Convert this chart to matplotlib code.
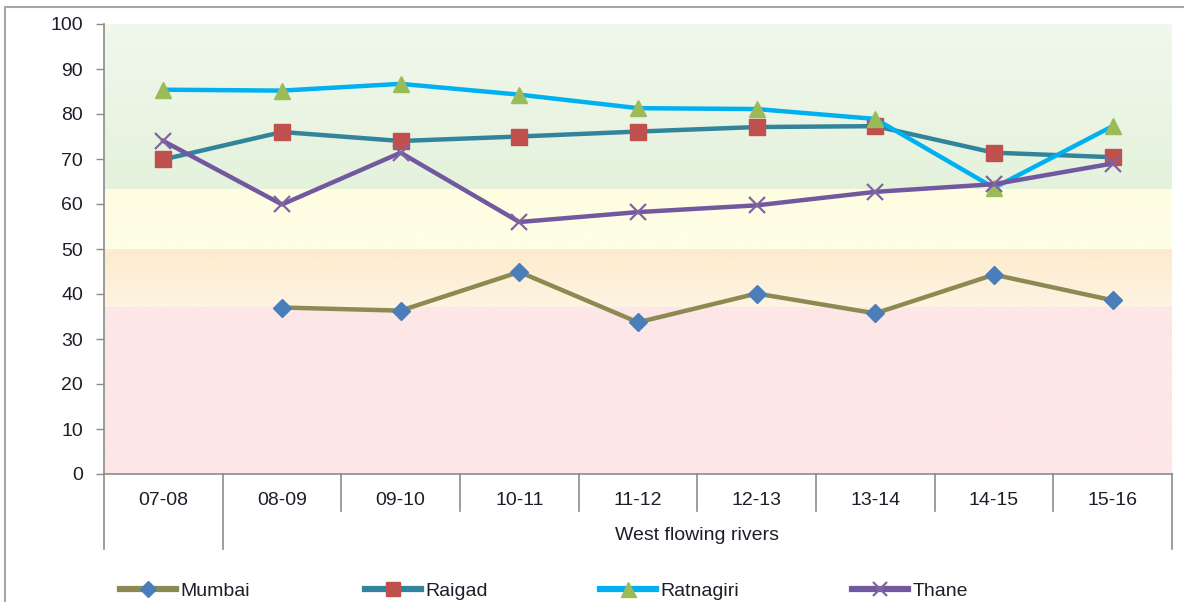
import numpy as np
import matplotlib
matplotlib.use("Agg")
import matplotlib.pyplot as plt
from matplotlib.patches import Rectangle
from matplotlib.colors import LinearSegmentedColormap, to_rgb
from matplotlib.transforms import blended_transform_factory

plt.rcParams['font.family'] = ['Liberation Sans', 'DejaVu Sans']

# ---- data ----
years = ["07-08", "08-09", "09-10", "10-11", "11-12", "12-13", "13-14", "14-15", "15-16"]
group_label = "West flowing rivers"
mumbai = [np.nan, 37.0, 36.3, 44.9, 33.7, 40.1, 35.7, 44.3, 38.6]
raigad = [69.9, 76.0, 74.0, 75.0, 76.1, 77.1, 77.3, 71.4, 70.4]
ratnagiri = [85.4, 85.2, 86.7, 84.3, 81.3, 81.1, 78.9, 63.6, 77.3]
thane = [74.0, 59.9, 71.4, 56.0, 58.2, 59.7, 62.7, 64.4, 69.0]

# quality bands: (low, high, colour at bottom, colour at top)
bands = [
    (0, 37, "#fde6e6", "#fde6e6"),
    (37, 50, "#fdf4e2", "#fdebcc"),
    (50, 63.3, "#fefee6", "#fefde2"),
    (63.3, 100, "#e4f2dc", "#f1f8ec"),
]

W, H, DPI = 1184, 602, 100
TXT = "#1e1e2a"
FS = 14
fig = plt.figure(figsize=(W / DPI, H / DPI), dpi=DPI)
fig.patch.set_facecolor("white")

# outer frame
fig.patches.append(Rectangle((5 / W, -0.05), 1.1, 1 - 7 / H + 0.05, transform=fig.transFigure,
                             fill=False, edgecolor="#a6a6a6", linewidth=1.5, zorder=0))

ax = fig.add_axes([104 / W, 1 - 474 / H, (1172 - 104) / W, 450 / H])
x = np.arange(len(years))
ax.set_xlim(-0.5, len(years) - 0.5)
ax.set_ylim(0, 100)

# gradient background bands
for lo, hi, cb, ct in bands:
    cmap = LinearSegmentedColormap.from_list("b", [to_rgb(cb), to_rgb(ct)])
    grad = np.linspace(0, 1, 64).reshape(-1, 1)
    ax.imshow(grad, cmap=cmap, aspect="auto", origin="lower",
              extent=(-0.5, len(years) - 0.5, lo, hi), zorder=0, interpolation="bilinear")

lw = 3.2
ax.plot(x, mumbai, color="#8c8a52", lw=lw, marker="D", ms=9, mfc="#4a7ebb", mec="#4a7ebb",
        label="Mumbai", zorder=3)
ax.plot(x, raigad, color="#31849b", lw=lw, marker="s", ms=11, mfc="#c0504d", mec="#c0504d",
        label="Raigad", zorder=3)
ax.plot(x, ratnagiri, color="#00b0f0", lw=lw, marker="^", ms=12, mfc="#9bbb59", mec="#9bbb59",
        label="Ratnagiri", zorder=3)
ax.plot(x, thane, color="#71589f", lw=lw, marker="x", ms=11, mew=1.6, mfc="#71589f", mec="#8064a2",
        label="Thane", zorder=3)

# axes styling
for s in ["top", "right"]:
    ax.spines[s].set_visible(False)
for s in ["left", "bottom"]:
    ax.spines[s].set_color("#8c8c8c")
    ax.spines[s].set_linewidth(1.2)
ax.set_yticks(np.arange(0, 101, 10))
ax.tick_params(axis="y", direction="out", length=6, width=1, color="#8c8c8c",
               labelsize=FS, labelcolor=TXT, pad=9)
ax.set_xticks(x)
ax.set_xticklabels(years)
ax.tick_params(axis="x", length=0, labelsize=FS, labelcolor=TXT, pad=13)

# category separators below the axis
tr = blended_transform_factory(ax.transData, ax.transAxes)
short_y = -37 / 450
long_y = -75 / 450
for b in np.arange(-0.5, len(years), 1.0):
    low = long_y if b in (-0.5, 0.5, len(years) - 0.5) else short_y
    ax.plot([b, b], [0, low], transform=tr, color="#8c8c8c", lw=1.2, clip_on=False, zorder=1)

ax.text((0.5 + len(years) - 0.5) / 2, -62 / 450, group_label, transform=tr,
        ha="center", va="center", fontsize=FS, color=TXT)

# legend entries along the bottom
handles, labels = ax.get_legend_handles_labels()
legend_x = [120, 365, 600, 852]
for h, lab, lx in zip(handles, labels, legend_x):
    leg = fig.legend([h], [lab], loc="center left", bbox_to_anchor=(lx / W, 1 - 591 / H),
                     frameon=False, fontsize=FS, handlelength=2.9, handletextpad=0.2,
                     borderpad=0, borderaxespad=0, markerscale=0.9)
    for t in leg.get_texts():
        t.set_color(TXT)
    for ln in leg.get_lines():
        ln.set_linewidth(4.5)

fig.savefig("out.png", dpi=DPI, facecolor="white")
